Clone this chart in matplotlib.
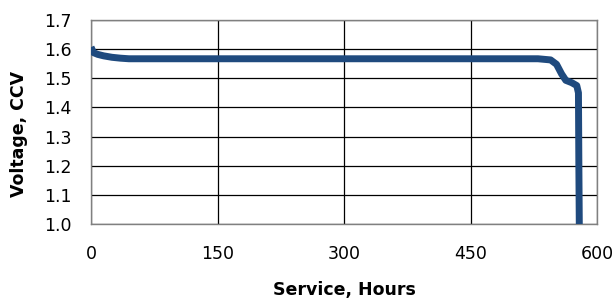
import matplotlib
matplotlib.use("Agg")
import matplotlib.pyplot as plt

hours = [0, 3, 8, 15, 25, 35, 45, 100, 200, 300, 400, 500, 530, 545, 552, 558, 563, 570, 576, 578, 578.5, 579]
voltage = [1.607, 1.588, 1.582, 1.577, 1.572, 1.569, 1.567, 1.567, 1.567, 1.567, 1.567, 1.567, 1.567, 1.563, 1.548, 1.515, 1.493, 1.485, 1.475, 1.45, 1.2, 1.0]

xticks = [0, 150, 300, 450, 600]
yticks = [1.0, 1.1, 1.2, 1.3, 1.4, 1.5, 1.6, 1.7]

plt.rcParams['font.family'] = ['DejaVu Sans']
fig = plt.figure(figsize=(6.16, 3.01), dpi=100)
ax = fig.add_axes([91/616, 1-224/301, (597-91)/616, (224-20)/301])
ax.plot(hours, voltage, color='#1f4a7e', lw=5, solid_capstyle='butt', solid_joinstyle='round', zorder=3)
ax.set_xlim(0, 600)
ax.set_ylim(1.0, 1.7)
ax.set_xticks(xticks)
ax.set_yticks(yticks)
ax.set_xticklabels([str(t) for t in xticks], fontsize=12.5)
ax.set_yticklabels([f"{t:.1f}" for t in yticks], fontsize=12.5)
ax.grid(True, color='black', lw=0.9)
ax.tick_params(axis='x', length=0, pad=15)
ax.tick_params(axis='y', length=0, pad=14)
for s in ax.spines.values():
    s.set_color('#808080')
    s.set_linewidth(1)
ax.set_xlabel('Service, Hours', fontsize=12.5, fontweight='bold', va='center')
ax.set_ylabel('Voltage, CCV', fontsize=12.5, fontweight='bold', va='center')
ax.xaxis.set_label_coords(0.5, (224-290)/204)
ax.yaxis.set_label_coords((19-91)/506, (224-133.5)/204)
fig.savefig('out.png', dpi=100)
